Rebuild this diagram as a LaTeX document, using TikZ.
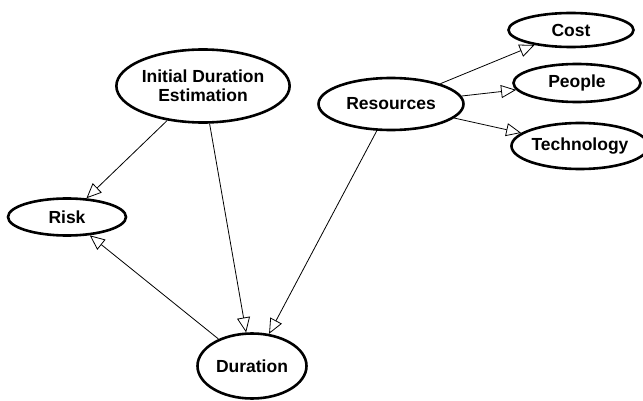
\documentclass[tikz,border=0pt]{standalone}
\usepackage{fontspec}
\setmainfont{Liberation Sans}
\usetikzlibrary{arrows.meta,shapes.geometric}

\tikzset{
	bubble/.style={draw, ellipse, line width=2.6pt, inner sep=0pt, fill=white,
		font=\fontsize{17.5}{19}\selectfont\bfseries, align=center},
	link/.style={line width=0.8pt, -{Triangle[open, length=15pt, width=13pt, line width=0.8pt]}}
}

\begin{document}
\begin{tikzpicture}[x=1pt, y=-1pt]
	%%%%% START %%%%%
	
	\useasboundingbox[fill=white] (0, 0) rectangle (643, 401);
	
	\node[bubble, minimum width=157pt, minimum height=73pt] (init) at (203, 86) {Initial Duration\\Estimation};
	\node[bubble, minimum width=145pt, minimum height=52pt] (res) at (391, 104) {Resources};
	
	\node[bubble, minimum width=125pt, minimum height=34pt] (cost) at (571, 30) {Cost};
	\node[bubble, minimum width=127pt, minimum height=38pt] (people) at (577, 83) {People};
	\node[bubble, minimum width=121pt, minimum height=46pt] (tech) at (580, 146) {Technology};
	
	\node[bubble, minimum width=118pt, minimum height=37pt] (risk) at (67, 217) {Risk};
	\node[bubble, minimum width=109pt, minimum height=65pt] (dur) at (252, 366) {Duration};
	
	\draw[link] (init) -- (risk);
	\draw[link] (init) -- (dur);
	\draw[link] (res) -- (dur);
	\draw[link] (dur) -- (risk);
	
	\draw[link] (res) -- (cost);
	\draw[link] (res) -- (people);
	\draw[link] (res) -- (tech);
	
	%%%%% END %%%%%
\end{tikzpicture}
\end{document}
